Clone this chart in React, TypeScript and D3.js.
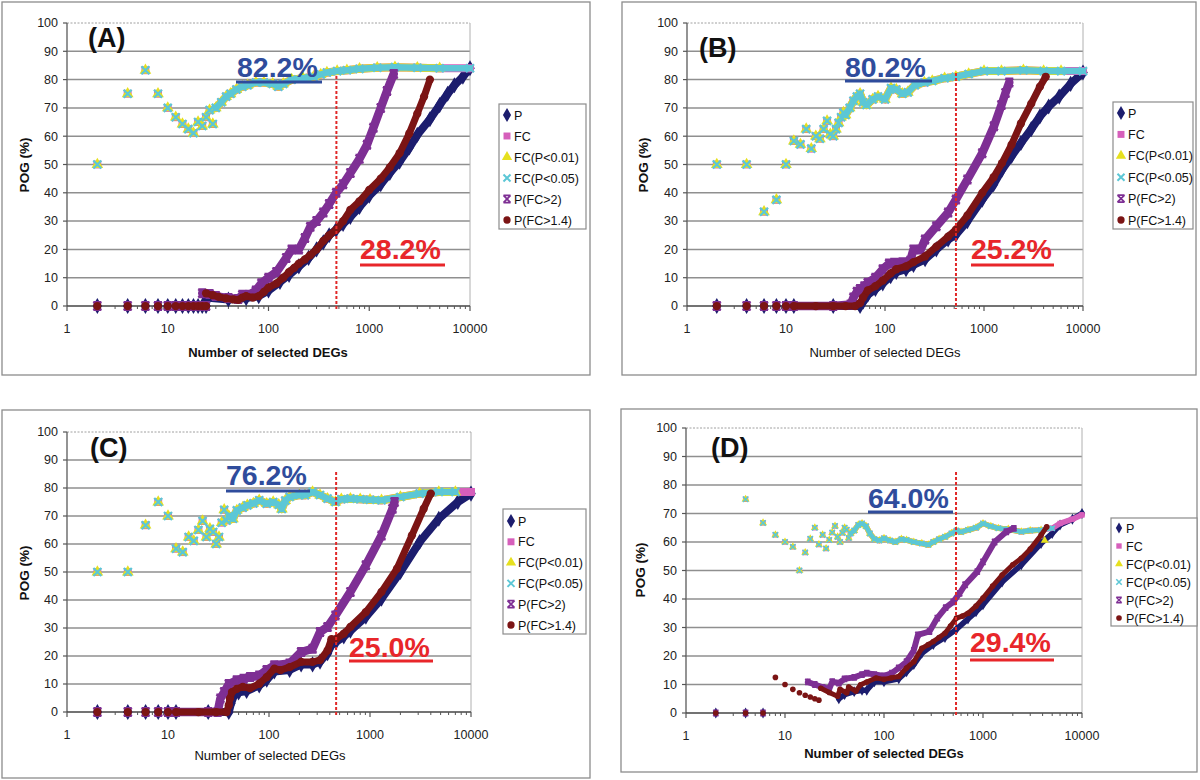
import React from 'react';
import * as d3 from 'd3';

type Pt = [number, number];

// ---------------- DATA ----------------
const SERIES_NAMES = ['P', 'FC', 'FC(P<0.01)', 'FC(P<0.05)', 'P(FC>2)', 'P(FC>1.4)'];
const X_TICKS = [1, 10, 100, 1000, 10000];
const Y_TICKS = [0, 10, 20, 30, 40, 50, 60, 70, 80, 90, 100];

// Panel A
const A_TOP_PTS: Pt[] = [[2, 50], [4, 75], [6, 83.3], [8, 75], [10, 70], [12, 66.7], [14, 64.3], [16, 62.5], [18, 61.1], [20, 65], [22, 63.6], [24, 66.7], [26, 69.2], [28, 64.3]];
const A_TOP_BAND: Pt[] = [[30, 70], [34, 72], [38, 74], [42, 75], [48, 76.5], [55, 77.5], [62, 78], [75, 79], [90, 79], [110, 78.5], [125, 77.5], [140, 78.5], [170, 80], [220, 80.5], [280, 81], [330, 81.8], [380, 82.5], [480, 83], [600, 83.3], [800, 83.8], [1200, 84.2], [1800, 84.4], [3000, 84.2], [5000, 84], [10000, 84]];
const A_LOW_PTS: Pt[] = [[2, 0], [4, 0], [6, 0], [8, 0], [10, 0], [12, 0], [14, 0], [16, 0], [18, 0], [20, 0], [22, 0], [24, 0]];
const A_P_BAND: Pt[] = [[24, 3], [40, 2.3], [60, 2.8], [80, 3.5], [100, 5.5], [130, 8.5], [160, 11], [200, 14], [250, 17], [300, 20], [350, 22.5], [400, 25], [470, 27], [550, 29], [650, 31.5], [800, 35], [1000, 39], [1300, 43], [1600, 47], [2000, 51], [2500, 56], [3000, 60.5], [4000, 66], [5000, 71], [6000, 75], [7000, 78], [8500, 81], [10000, 84]];
const A_P2_BAND: Pt[] = [[22, 4.5], [26, 4.2], [30, 3.5], [40, 2.8], [50, 2.5], [55, 4], [65, 4], [75, 5.5], [85, 8], [100, 10], [120, 12], [150, 17], [170, 20], [200, 20], [230, 24], [260, 28], [300, 30], [350, 33], [400, 36], [470, 40], [550, 43], [650, 47], [800, 52], [950, 57], [1100, 63], [1300, 70], [1500, 76], [1750, 82]];
const A_P14_BAND: Pt[] = [[24, 4.5], [28, 3.8], [32, 3.2], [38, 2.7], [45, 2.3], [50, 2.2], [55, 3], [60, 3.5], [70, 3], [80, 3.5], [90, 5], [100, 6.5], [120, 8], [140, 10], [160, 12], [180, 13.5], [200, 15], [230, 16.5], [260, 18], [300, 20], [350, 23], [400, 25], [470, 27], [550, 30], [650, 34], [800, 37], [1000, 41], [1300, 45], [1600, 49], [2000, 54], [2500, 61], [3000, 68], [3500, 74], [4000, 80]];

// Panel B
const B_TOP_PTS: Pt[] = [[2, 50], [4, 50], [6, 33.3], [8, 37.5], [10, 50], [12, 58.3], [14, 57.1], [16, 62.5], [18, 55.6], [20, 60], [22, 59.1], [24, 62.5], [26, 65.4], [28, 60.7], [30, 60], [32, 62.5], [34, 64.7], [36, 66.7], [38, 68.4]];
const B_TOP_BAND: Pt[] = [[40, 67.5], [44, 70], [48, 72.5], [52, 74], [56, 75], [60, 72], [65, 71], [75, 73], [85, 74], [100, 73], [115, 77], [130, 76.5], [150, 75], [170, 75.5], [200, 78], [250, 79], [300, 79.5], [400, 80.5], [520, 81], [700, 82], [1000, 83], [1500, 83], [2500, 83.3], [4000, 83], [6000, 83], [10000, 83]];
const B_LOW_PTS: Pt[] = [[2, 0], [4, 0], [6, 0], [8, 0], [10, 0]];
const B_P_BAND: Pt[] = [[12, 0], [30, 0], [56, 0], [60, 1.5], [67, 4], [80, 6], [95, 8], [114, 10.5], [130, 12], [163, 13], [194, 14.5], [254, 16.5], [330, 20], [434, 23.5], [520, 25.2], [680, 30], [960, 37.6], [1250, 43], [1520, 48.2], [1900, 53], [2360, 57.6], [3000, 62.5], [3670, 67], [4500, 70.5], [5750, 74], [7500, 78.5], [10000, 82.5]];
const B_P2_BAND: Pt[] = [[12, 0], [30, 0], [45, 0.5], [48, 3], [52, 5], [56, 6], [62, 7], [67, 8.2], [80, 10], [95, 13], [110, 15], [124, 15.3], [150, 15.5], [180, 16], [194, 20], [230, 20], [254, 23.5], [330, 28.2], [434, 33], [520, 37.6], [680, 44.7], [960, 54], [1260, 63.5], [1500, 71], [1650, 75.3], [1800, 79]];
const B_P14_BAND: Pt[] = [[12, 0], [20, 0], [30, 0], [40, 0], [50, 0], [56, 1], [60, 3], [67, 5.5], [80, 7], [95, 9], [114, 11.5], [130, 13], [163, 14], [194, 15.5], [254, 17.5], [330, 21], [434, 24.5], [520, 27], [680, 32], [960, 40], [1250, 45.5], [1520, 50.5], [1900, 57], [2360, 64.5], [3000, 71.5], [3670, 77.5], [4200, 81]];

// Panel C
const C_TOP_PTS: Pt[] = [[2, 50], [4, 50], [6, 66.7], [8, 75], [10, 70], [12, 58.3], [14, 57.1], [16, 62.5], [18, 61.1], [20, 65], [22, 68.2], [24, 62.5], [26, 65.4], [28, 64.3], [30, 60], [32, 62.5], [34, 67.6], [36, 72.2], [38, 68.4]];
const C_TOP_BAND: Pt[] = [[40, 70], [44, 69], [48, 72], [55, 73], [61, 73.8], [70, 74.5], [80, 75.6], [95, 74.4], [110, 75], [125, 74], [134, 72.5], [145, 75.5], [160, 76.8], [200, 77.5], [227, 77.4], [270, 78.6], [320, 77.5], [380, 76.2], [455, 75], [520, 76], [640, 76.2], [800, 76], [1000, 75.8], [1300, 75.6], [2000, 76.8], [3100, 78], [4800, 78.6], [7000, 78.6], [10000, 78.6]];
const C_LOW_PTS: Pt[] = [[2, 0], [4, 0], [6, 0], [8, 0], [10, 0]];
const C_P_BAND: Pt[] = [[12, 0], [25, 0], [40, 0], [42, 3], [45, 6], [50, 7], [60, 7.5], [80, 9.5], [95, 11.5], [113, 14.5], [160, 15], [208, 17], [270, 17], [320, 18], [380, 21], [415, 24], [460, 25], [550, 27], [640, 29], [910, 34], [1300, 40.5], [2000, 50], [3100, 60.7], [4800, 69], [7400, 75], [10000, 78]];
const C_P2_BAND: Pt[] = [[12, 0], [25, 0], [31, 0], [33, 4.8], [36, 7.1], [40, 10], [48, 11.3], [56, 11.9], [65, 12.5], [80, 13], [95, 15], [113, 16.7], [160, 17.3], [208, 21.4], [270, 22.6], [320, 28.6], [380, 30.4], [455, 34.5], [640, 42.9], [910, 52.4], [1300, 63], [1670, 72.6], [1750, 75]];
const C_P14_BAND: Pt[] = [[12, 0], [20, 0], [30, 0], [38, 0], [40, 2.4], [41, 4.8], [43, 7.1], [48, 8.3], [55, 9], [65, 8.5], [80, 10.1], [95, 12.5], [113, 15.5], [130, 15], [160, 16], [208, 17.9], [270, 17.9], [320, 18.5], [380, 22], [415, 26], [460, 26], [550, 28], [640, 30.4], [910, 35.7], [1300, 42.9], [1850, 51.2], [2600, 63.1], [3400, 72.6], [4000, 78]];

// Panel D
const D_TOP_PTS: Pt[] = [[4, 75], [6, 66.7], [8, 62.5], [10, 60], [12, 58.3], [14, 50], [16, 56.3], [18, 61.1], [20, 65], [22, 59.1], [24, 62.5], [26, 57.7], [28, 60.7], [30, 63.3], [32, 65.6], [34, 61.8], [36, 60], [38, 63.2], [40, 65], [42, 64.3], [44, 61.4]];
const D_TOP_BAND: Pt[] = [[46, 63], [50, 64], [55, 66], [60, 66.5], [66, 65.5], [72, 63], [80, 61], [90, 60.5], [100, 61.3], [115, 60.5], [130, 60], [150, 61], [169, 60.7], [200, 60], [241, 59.5], [280, 59], [315, 60], [360, 61], [413, 61.8], [480, 63], [540, 64], [600, 63.5], [705, 64.2], [850, 65], [1000, 66.5], [1200, 65.5], [1430, 64.8], [1800, 64.5], [2440, 63.6], [3000, 64], [3860, 64.2], [5000, 64.8], [6000, 66.5], [8000, 68], [10000, 69.5]];
const D_FC01_TAIL: Pt[] = [[4200, 60.5]];
const D_LOW_PTS: Pt[] = [[2, 0], [4, 0], [6, 0]];
const D_P14_PTS: Pt[] = [[8, 12.5], [10, 10], [12, 8.3], [14, 7.1], [16, 6.25], [18, 5.6], [20, 5], [22, 4.5]];
const D_P_BAND: Pt[] = [[35, 5], [40, 6.5], [50, 7.5], [60, 8], [67, 8], [80, 11], [100, 11], [141, 12], [169, 14.5], [200, 17], [241, 21], [315, 24], [413, 26.5], [540, 29.4], [705, 33], [850, 35.5], [1000, 38], [1560, 46], [2440, 52], [3860, 59.5], [5000, 63], [6000, 66], [8000, 68], [10000, 70]];
const D_P2_BAND: Pt[] = [[17, 10.9], [20, 10], [24, 9], [28, 8.5], [30, 11], [35, 10.5], [40, 12], [50, 12.5], [60, 13.5], [67, 14], [80, 13.5], [100, 13], [120, 14], [141, 15.8], [169, 18], [200, 22], [220, 27.4], [288, 28.6], [345, 33.3], [420, 37], [500, 39], [580, 42], [660, 45], [875, 49.6], [1000, 53], [1310, 60], [1720, 63.6], [2050, 64.8]];
const D_P14_BAND: Pt[] = [[23, 8.7], [28, 7.2], [34, 5.9], [36, 8.3], [42, 7.1], [44, 9.1], [52, 7.7], [58, 9.9], [67, 10.9], [83, 12.3], [100, 11.8], [118, 12.3], [141, 12.8], [169, 15.8], [200, 18], [241, 22.7], [280, 24], [315, 25.1], [360, 26.5], [413, 28], [470, 30.5], [540, 33.3], [620, 34], [705, 35], [850, 37.5], [1000, 40.3], [1250, 44.5], [1560, 48.4], [2000, 52], [2440, 54.3], [3000, 57.5], [3860, 62.4], [4400, 65.3]];

// Cutoff (red dotted line) positions, number of DEGs
const CUTOFFS = [472, 521, 462, 534];
const BLUE_LABELS = ['82.2%', '80.2%', '76.2%', '64.0%'];
const RED_LABELS = ['28.2%', '25.2%', '25.0%', '29.4%'];
const PANEL_TITLES = ['(A)', '(B)', '(C)', '(D)'];

// ---------------- STYLE ----------------
const COLORS = ['#1c1d6e', '#d65fbb', '#e6e01e', '#5cc7d6', '#7e2f94', '#7b1414'];
const SHAPES = ['diamond', 'square', 'triangle', 'x', 'star', 'circle'];
const FONT = '"Liberation Sans", Arial, Helvetica, sans-serif';

type SeriesSpec = { pts: Pt[]; band: Pt[] };

const PANELS = [
  {
    frame: [2, 2, 588, 373], x0: 67, x1: 470, y0: 306, y1: 23,
    title: [88, 47], blue: [237, 77, 236, 322, 82], red: [360, 259, 360, 445, 265], dotTop: 76,
    legend: [499, 104, 87, 125, 115, 21], xTitle: [268, 357, true], yTitle: [24, 165], msize: 1.25,
    series: [
      { pts: A_LOW_PTS, band: A_P_BAND },
      { pts: A_TOP_PTS, band: A_TOP_BAND },
      { pts: A_TOP_PTS, band: A_TOP_BAND.filter(d => d[0] <= 9000) },
      { pts: A_TOP_PTS, band: A_TOP_BAND },
      { pts: A_LOW_PTS, band: A_P2_BAND },
      { pts: A_LOW_PTS, band: A_P14_BAND },
    ] as SeriesSpec[],
  },
  {
    frame: [622, 2, 574, 373], x0: 687, x1: 1083, y0: 306, y1: 23,
    title: [699, 57], blue: [845, 77, 845, 932, 81], red: [971, 259, 971, 1054, 265], dotTop: 73,
    legend: [1113, 102, 80, 127, 113, 21.4], xTitle: [885, 357, false], yTitle: [643, 165], msize: 1.25,
    series: [
      { pts: B_LOW_PTS, band: B_P_BAND },
      { pts: B_TOP_PTS, band: B_TOP_BAND },
      { pts: B_TOP_PTS, band: B_TOP_BAND.filter(d => d[0] <= 8000) },
      { pts: B_TOP_PTS, band: B_TOP_BAND },
      { pts: B_LOW_PTS, band: B_P2_BAND },
      { pts: B_LOW_PTS, band: B_P14_BAND },
    ] as SeriesSpec[],
  },
  {
    frame: [2, 410, 588, 368], x0: 67, x1: 471, y0: 712, y1: 432,
    title: [90, 457], blue: [226, 485, 226, 310, 491], red: [349, 657, 349, 433, 661], dotTop: 472,
    legend: [503, 509, 83, 125, 521, 20.8], xTitle: [270, 760, false], yTitle: [24, 573], msize: 1.25,
    series: [
      { pts: C_LOW_PTS, band: C_P_BAND },
      { pts: C_TOP_PTS, band: C_TOP_BAND },
      { pts: C_TOP_PTS, band: C_TOP_BAND.filter(d => d[0] <= 7000) },
      { pts: C_TOP_PTS, band: C_TOP_BAND.filter(d => d[0] <= 7000) },
      { pts: C_LOW_PTS, band: C_P2_BAND },
      { pts: C_LOW_PTS, band: C_P14_BAND },
    ] as SeriesSpec[],
  },
  {
    frame: [621, 409, 576, 363], x0: 686, x1: 1082, y0: 713, y1: 428,
    title: [711, 457], blue: [868, 508, 868, 953, 512], red: [970, 652, 970, 1054, 660], dotTop: 472,
    legend: [1111, 518, 86, 108, 528, 18], xTitle: [884, 758, true], yTitle: [640, 570], msize: 0.85,
    series: [
      { pts: D_LOW_PTS, band: D_P_BAND },
      { pts: D_TOP_PTS, band: D_TOP_BAND },
      { pts: D_TOP_PTS.concat(D_FC01_TAIL), band: D_TOP_BAND.filter(d => d[0] <= 3860) },
      { pts: D_TOP_PTS, band: D_TOP_BAND.filter(d => d[0] <= 5000) },
      { pts: D_LOW_PTS, band: D_P2_BAND },
      { pts: D_LOW_PTS.concat(D_P14_PTS), band: D_P14_BAND },
    ] as SeriesSpec[],
  },
];

function Marker({ shape, x, y, color, s }: { shape: string; x: number; y: number; color: string; s: number }) {
  if (shape === 'circle') return <circle cx={x} cy={y} r={3.3 * s} fill={color} />;
  if (shape === 'x') {
    const r = 3.2 * s;
    return <path d={`M${x - r},${y - r}L${x + r},${y + r}M${x - r},${y + r}L${x + r},${y - r}`} stroke={color} strokeWidth={1.8 * s} />;
  }
  if (shape === 'star') {
    const r = 3.2 * s;
    return <path d={`M${x - r},${y - r}L${x + r},${y + r}M${x - r},${y + r}L${x + r},${y - r}M${x - r},${y - r}L${x + r},${y - r}M${x - r},${y + r}L${x + r},${y + r}`} stroke={color} strokeWidth={1.6 * s} />;
  }
  const type = shape === 'diamond' ? d3.symbolDiamond : shape === 'square' ? d3.symbolSquare : d3.symbolTriangle;
  const size = shape === 'diamond' ? 48 : shape === 'square' ? 40 : 38;
  const p = d3.symbol().type(type).size(size * s * s)();
  return <path d={p || ''} transform={`translate(${x},${y})`} fill={color} />;
}

function Panel({ cfg, idx }: { cfg: (typeof PANELS)[number]; idx: number }) {
  const xs = d3.scaleLog().domain([1, 10000]).range([cfg.x0, cfg.x1]);
  const ys = d3.scaleLinear().domain([0, 100]).range([cfg.y0, cfg.y1]);
  const line = d3.line<Pt>().x(d => xs(d[0])).y(d => ys(d[1]));
  const [fx, fy, fw, fh] = cfg.frame;
  const minor: number[] = [];
  for (let e = 0; e < 4; e++) for (let m = 2; m <= 9; m++) minor.push(m * Math.pow(10, e));
  const small = cfg.msize < 1;
  const bandW = [8, 8, 8, 6.5, 8.5, 7].map(w => w * (small ? 0.7 : 1));
  const [lx, ly, lw, lh, lr0, ldy] = cfg.legend;
  return (
    <g>
      <rect x={fx} y={fy} width={fw} height={fh} fill="#fff" stroke="#8c8c8c" strokeWidth={1.3} />
      {Y_TICKS.filter(t => t > 0 && t < 100).map(t => (
        <line key={t} x1={cfg.x0} x2={cfg.x1} y1={ys(t)} y2={ys(t)} stroke="#8f8f8f" strokeWidth={1.5} />
      ))}
      <line x1={cfg.x0} x2={cfg.x1} y1={ys(100)} y2={ys(100)} stroke="#a0a0a0" strokeWidth={1} strokeDasharray="2,1.5" />
      <line x1={cfg.x1} x2={cfg.x1} y1={ys(100)} y2={ys(0)} stroke="#b0b0b0" strokeWidth={1} />
      <line x1={cfg.x0} x2={cfg.x0} y1={ys(100)} y2={ys(0)} stroke="#666" strokeWidth={1.4} />
      <line x1={cfg.x0} x2={cfg.x1} y1={ys(0)} y2={ys(0)} stroke="#444" strokeWidth={1.6} />
      {Y_TICKS.map(t => (
        <g key={t}>
          <line x1={cfg.x0 - 4} x2={cfg.x0} y1={ys(t)} y2={ys(t)} stroke="#555" strokeWidth={1.2} />
          <text x={cfg.x0 - 9} y={ys(t) + 4.3} textAnchor="end" fontSize={12.5} fontFamily={FONT} fill="#222">{t}</text>
        </g>
      ))}
      {minor.map(t => (
        <line key={'m' + t} x1={xs(t)} x2={xs(t)} y1={ys(0)} y2={ys(0) + 3} stroke="#555" strokeWidth={1} />
      ))}
      {X_TICKS.map(t => (
        <g key={'x' + t}>
          <line x1={xs(t)} x2={xs(t)} y1={ys(0)} y2={ys(0) + 5} stroke="#555" strokeWidth={1.2} />
          <text x={xs(t)} y={ys(0) + 27} textAnchor="middle" fontSize={12.5} fontFamily={FONT} fill="#222">{t}</text>
        </g>
      ))}
      <text x={cfg.xTitle[0] as number} y={cfg.xTitle[1] as number} textAnchor="middle" fontSize={13}
        fontWeight={cfg.xTitle[2] ? 'bold' : 'normal'} fontFamily={FONT} fill="#111">Number of selected DEGs</text>
      <text transform={`translate(${cfg.yTitle[0]},${cfg.yTitle[1]}) rotate(-90)`} textAnchor="middle" dominantBaseline="central"
        fontSize={13.5} fontWeight="bold" fontFamily={FONT} fill="#111">POG (%)</text>
      {cfg.series.map((s, i) => (
        <g key={'s' + i}>
          <path d={line(s.band) || ''} fill="none" stroke={COLORS[i]} strokeWidth={bandW[i]} strokeLinejoin="round" strokeLinecap="round" />
          {s.band.map((d, j) => (
            <Marker key={'b' + j} shape={SHAPES[i]} x={xs(d[0])} y={ys(d[1])} color={COLORS[i]} s={cfg.msize} />
          ))}
          {s.pts.map((d, j) => (
            <Marker key={'p' + j} shape={SHAPES[i]} x={xs(d[0])} y={ys(d[1])} color={COLORS[i]} s={cfg.msize} />
          ))}
        </g>
      ))}
      <line x1={xs(CUTOFFS[idx])} x2={xs(CUTOFFS[idx])} y1={cfg.dotTop} y2={ys(0) + 3} stroke="#e02828" strokeWidth={2} strokeDasharray="3,2" />
      <text x={cfg.title[0]} y={cfg.title[1]} fontSize={27} fontWeight="bold" fontFamily={FONT} fill="#111">{PANEL_TITLES[idx]}</text>
      <text x={cfg.blue[0]} y={cfg.blue[1]} fontSize={28.5} fontWeight="bold" fontFamily={FONT} fill="#2f4c9c">{BLUE_LABELS[idx]}</text>
      <line x1={cfg.blue[2]} x2={cfg.blue[3]} y1={cfg.blue[4]} y2={cfg.blue[4]} stroke="#2f4c9c" strokeWidth={3} />
      <text x={cfg.red[0]} y={cfg.red[1]} fontSize={28.5} fontWeight="bold" fontFamily={FONT} fill="#e8262a">{RED_LABELS[idx]}</text>
      <line x1={cfg.red[2]} x2={cfg.red[3]} y1={cfg.red[4]} y2={cfg.red[4]} stroke="#e8262a" strokeWidth={3} />
      <rect x={lx} y={ly} width={lw} height={lh} fill="#fff" stroke="#8c8c8c" strokeWidth={1.2} />
      {SERIES_NAMES.map((n, i) => (
        <g key={'l' + i}>
          <Marker shape={SHAPES[i]} x={lx + 8} y={lr0 + i * ldy} color={COLORS[i]} s={small ? 0.85 : 1.1} />
          <text x={lx + 15} y={lr0 + i * ldy + 4.5} fontSize={12.5} fontFamily={FONT} fill="#111">{n}</text>
        </g>
      ))}
    </g>
  );
}

export default function App() {
  return (
    <svg width={1200} height={780} style={{ position: 'absolute', left: 0, top: 0, background: '#fff' }}>
      <rect x={0} y={0} width={1200} height={780} fill="#fff" />
      {PANELS.map((p, i) => <Panel key={i} cfg={p} idx={i} />)}
    </svg>
  );
}
